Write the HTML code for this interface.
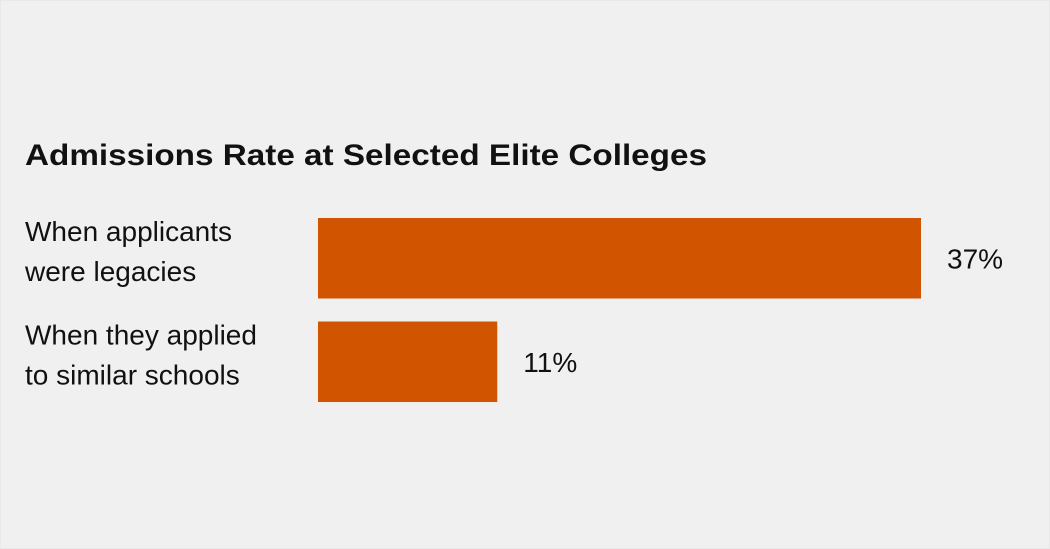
<!DOCTYPE html>
<html><head><meta charset="utf-8"><style>
html,body{margin:0;padding:0;background:#f0f0f0;}
svg{display:block;}
text{font-family:"Liberation Sans",sans-serif;fill:#111;}
</style></head><body>
<svg id="chart" width="1050" height="549" viewBox="0 0 1050 549">
<rect x="0" y="0" width="1050" height="549" fill="#f0f0f0" stroke="#e2e2e2"/>
<text x="25" y="165" font-size="30" font-weight="bold" textLength="682" lengthAdjust="spacingAndGlyphs">Admissions Rate at Selected Elite Colleges</text>
<g id="bars"></g>
</svg>
<script>
const categories1 = ["When applicants", "When they applied"];
const categories2 = ["were legacies", "to similar schools"];
const values = [37, 11];
const valueLabels = ["37%", "11%"];
const svgNS = "http://www.w3.org/2000/svg";
const g = document.getElementById("bars");
const x0 = 318, pxPerUnit = 603 / 37;
function xScale(v){ return x0 + v * pxPerUnit; }
function yBand(i){ return 218 + i * 103.5; }
const bandH = 80.5;
for (let i = 0; i < values.length; i++) {
  const y = yBand(i);
  const r = document.createElementNS(svgNS, "rect");
  
  
  r.setAttribute("x", x0); r.setAttribute("y", y);
  r.setAttribute("width", xScale(values[i]) - x0); r.setAttribute("height", bandH);
  r.setAttribute("fill", "#d15400");
  g.appendChild(r);
  const l1 = document.createElementNS(svgNS, "text");
  
  
  l1.setAttribute("x", 25); l1.setAttribute("y", y + 23);
  l1.setAttribute("font-size", "28");
  l1.textContent = categories1[i];
  g.appendChild(l1);
  const l2 = document.createElementNS(svgNS, "text");
  
  
  l2.setAttribute("x", 25); l2.setAttribute("y", y + 63);
  l2.setAttribute("font-size", "28");
  l2.textContent = categories2[i];
  g.appendChild(l2);
  const vl = document.createElementNS(svgNS, "text");
  
  
  vl.setAttribute("x", xScale(values[i]) + 26); vl.setAttribute("y", y + bandH / 2 + 10);
  vl.setAttribute("font-size", "28");
  vl.textContent = valueLabels[i];
  g.appendChild(vl);
}
</script>
</body></html>
